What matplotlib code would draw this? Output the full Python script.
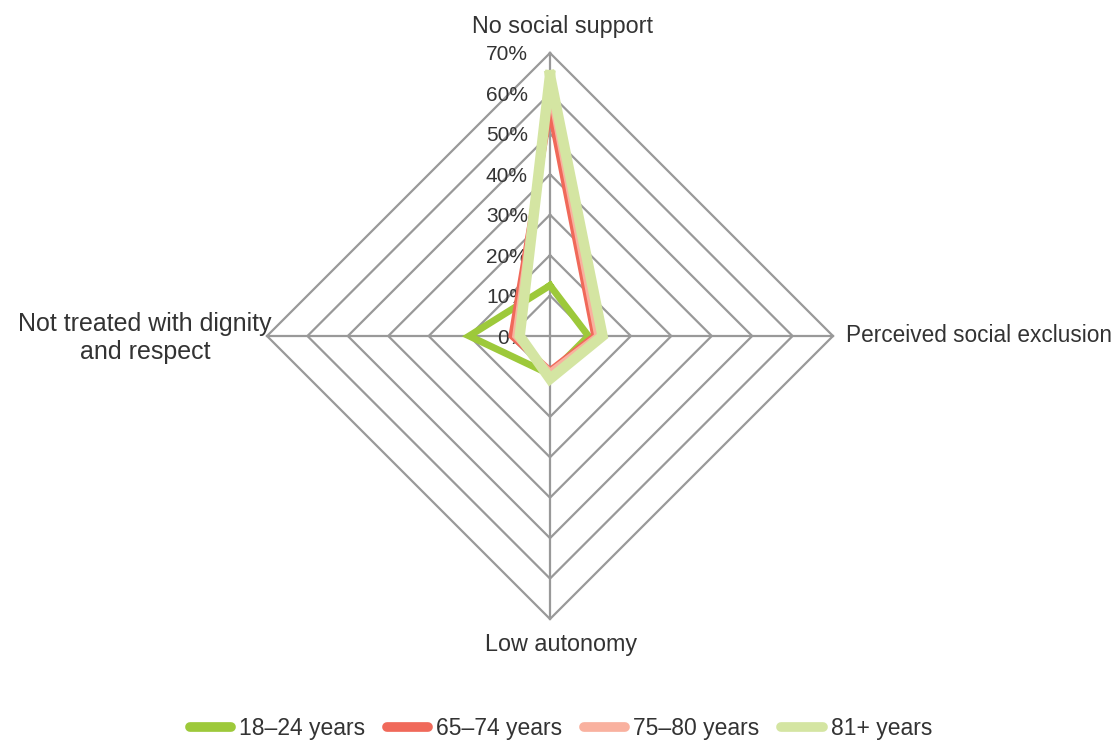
import numpy as np
import matplotlib
matplotlib.use("Agg")
import matplotlib.pyplot as plt
from matplotlib.lines import Line2D

categories = ["No social support", "Perceived social exclusion", "Low autonomy",
              "Not treated with dignity\nand respect"]
series_names = ["18\u201324 years", "65\u201374 years", "75\u201380 years", "81+ years"]
v_18_24 = [12.5, 9.5, 9.5, 20.0]
v_65_74 = [56.0, 11.0, 8.5, 9.5]
v_75_80 = [61.0, 11.8, 9.0, 8.5]
v_81p = [64.5, 13.0, 10.6, 7.5]
tick_values = [0, 10, 20, 30, 40, 50, 60, 70]
tick_labels = ["0%", "10%", "20%", "30%", "40%", "50%", "60%", "70%"]

colors = ["#9dc93a", "#f0695a", "#f9b19f", "#d4e5a2"]
widths = [5.0, 4.6, 5.0, 7.5]
all_vals = [v_18_24, v_65_74, v_75_80, v_81p]

plt.rcParams['font.family'] = ['Liberation Sans', 'DejaVu Sans']
text_color = "#333333"
grid_color = "#999999"

W, H, dpi = 1117, 740, 100
fig = plt.figure(figsize=(W / dpi, H / dpi), dpi=dpi)
ax = fig.add_axes([0, 0, 1, 1])
cx, cy, rad = 550, 336, 283
s = rad / 70.0
ax.set_xlim(-cx / s, (W - cx) / s)
ax.set_ylim(-(H - cy) / s, cy / s)
ax.axis("off")

angles = np.deg2rad([90, 0, -90, 180])


def to_xy(vals):
    v = np.asarray(vals, dtype=float)
    x = v * np.cos(angles)
    y = v * np.sin(angles)
    return np.append(x, x[0]), np.append(y, y[0])


# grid rings
for t in tick_values[1:]:
    gx, gy = to_xy([t] * 4)
    ax.plot(gx, gy, color=grid_color, lw=1.6, zorder=1, solid_joinstyle="miter")
# spokes
for a in angles:
    ax.plot([0, 70 * np.cos(a)], [0, 70 * np.sin(a)], color=grid_color, lw=1.6, zorder=1)

# tick labels
for t, lab in zip(tick_values, tick_labels):
    ax.text(-22 / s, t - 2 / s, lab, ha="right", va="center", fontsize=15,
            color=text_color, zorder=2)

# series
for vals, c, w, name in zip(all_vals, colors, widths, series_names):
    x, y = to_xy(vals)
    ax.plot(x, y, color=c, lw=w, zorder=3, solid_joinstyle="miter", label=name)

fs = 16.8
# category labels
ax.text(12 / s, 70 + 26 / s, categories[0], ha="center", va="center",
        fontsize=fs, color=text_color)
ax.text(70 + 13 / s, 0, categories[1], ha="left", va="center",
        fontsize=16.3, color=text_color)
ax.text(11 / s, -70 - 26 / s, categories[2], ha="center", va="center",
        fontsize=fs, color=text_color)
ax.text(-70 - 122 / s, -2 / s, categories[3], ha="center", va="center",
        fontsize=18, color=text_color, linespacing=1.2)

handles = [Line2D([0], [0], color=c, lw=7, solid_capstyle="round") for c in colors]
leg = ax.legend(handles, series_names, loc="center", bbox_to_anchor=(561 / W, 1 - 729 / H),
                bbox_transform=fig.transFigure, ncol=4, frameon=False,
                fontsize=16.5, handlelength=1.8, handletextpad=0.35, columnspacing=0.95,
                borderpad=0, borderaxespad=0)
for txt in leg.get_texts():
    txt.set_color(text_color)

fig.savefig("out.png", dpi=dpi)
